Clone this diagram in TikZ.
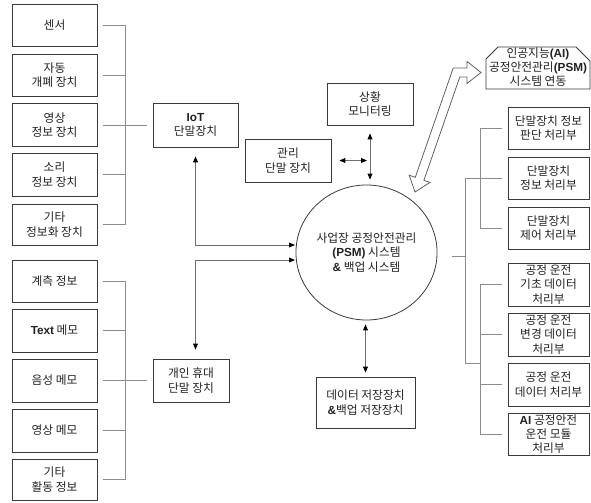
\documentclass[tikz,border=0pt]{standalone}
\usepackage{fontspec}
\setmainfont{Noto Sans CJK KR}
\newfontfamily\lat{Liberation Sans}
\usetikzlibrary{arrows.meta,calc,shapes.geometric}
\newcommand\lb[1]{{\lat\bfseries #1}}
\definecolor{txt}{HTML}{222222}
\definecolor{ln}{HTML}{3A3A3A}
\definecolor{brc}{HTML}{8C8C8C}
\definecolor{cnc}{HTML}{6E6E6E}
\begin{document}
\begin{tikzpicture}[x=0.75pt,y=-0.75pt,
  every node/.style={font=\fontsize{8.8pt}{10.7pt}\selectfont, text=txt},
  bx/.style 2 args={draw=ln, line width=0.6pt, rectangle, inner sep=0pt, align=center,
    minimum width=#1*0.75pt, minimum height=#2*0.75pt},
  brk/.style={draw=brc, line width=0.7pt},
  conn/.style={draw=cnc, line width=0.7pt},
  >={Triangle[length=4.5pt,width=3.6pt,color=black]}]
\useasboundingbox (0,0) rectangle (591,502);
\fill[white] (0,0) rectangle (591,502);

% left upper group
\node[bx={85}{42}] (s1) at (54.5,25) {센서};
\node[bx={85}{42}] (s2) at (54.5,75) {자동\\개폐 장치};
\node[bx={85}{43}] (s3) at (54.5,125) {영상\\정보 장치};
\node[bx={85}{43}] (s4) at (54.5,174.5) {소리\\정보 장치};
\node[bx={85}{41}] (s5) at (54.5,224.5) {기타\\정보화 장치};
% left lower group
\node[bx={85}{42}] (t1) at (54.5,281) {계측 정보};
\node[bx={85}{43}] (t2) at (54.5,330.5) {\lb{Text} 메모};
\node[bx={85}{43}] (t3) at (54.5,380.5) {음성 메모};
\node[bx={85}{43}] (t4) at (54.5,430.5) {영상 메모};
\node[bx={85}{41}] (t5) at (54.5,479.5) {기타\\활동 정보};
% middle
\node[bx={85}{44}] (iot) at (195.5,125) {\lb{IoT}\\단말장치};
\node[bx={76}{43}] (pers) at (191,380.5) {개인 휴대\\단말 장치};
\node[bx={86}{42}] (mon) at (370,104) {상황\\모니터링};
\node[bx={86}{43}] (mgmt) at (288,160.5) {관리\\단말 장치};
\node[bx={99}{51}] (data) at (365.5,402.5) {데이터 저장장치\\\lb{\&}백업 저장장치};
\node[draw=ln, line width=0.6pt, ellipse, inner sep=0pt, align=center,
  minimum width=127*0.75pt, minimum height=135*0.75pt] (circ) at (366.5,252.5)
  {사업장 공정안전관리\\\lb{(PSM)} 시스템\\\lb{\&} 백업 시스템};
% right
\node[bx={81}{42}] (r1) at (548.5,128) {단말장치 정보\\판단 처리부};
\node[bx={81}{42}] (r2) at (548.5,178) {단말장치\\정보 처리부};
\node[bx={81}{42}] (r3) at (548.5,228) {단말장치\\제어 처리부};
\node[bx={81}{43}] (q1) at (548.5,284.5) {공정 운전\\기초 데이터\\처리부};
\node[bx={81}{43}] (q2) at (548.5,334.5) {공정 운전\\변경 데이터\\처리부};
\node[bx={81}{43}] (q3) at (548.5,384.5) {공정 운전\\데이터 처리부};
\node[bx={81}{42}] (q4) at (548.5,434) {\lb{AI} 공정안전\\운전 모듈\\처리부};
% AI linkage box
\draw[draw=ln, line width=0.6pt] (486,89) -- (486,59) -- (498,47) -- (576,47) -- (590,61) -- (590,89) -- cycle;
\node[align=center] (ai) at (538,67) {인공지능\lb{(AI)}\\공정안전관리\lb{(PSM)}\\시스템 연동};

% left brackets
\coordinate (lbx) at (125,0);
\foreach \n in {s1,s2,s3,s4,s5,t1,t2,t3,t4,t5}
  \draw[brk] ($(\n.east)+(6,0)$) -- (\n.east -| lbx);
\draw[brk] (s1.east -| lbx) -- (s5.east -| lbx);
\draw[brk] (t1.east -| lbx) -- (t5.east -| lbx);
\draw[brk] (s3.east -| lbx) -- ($(iot.west)+(-6,0)$);
\draw[brk] (t3.east -| lbx) -- ($(pers.west)+(-6,0)$);

% right brackets
\coordinate (rs) at (452,256);
\coordinate (rm) at (465,256);
\coordinate (rb) at (465,363);
\coordinate (ub) at (480,0);
\draw[brk] (rs) -- (rm);
\draw[brk] ($(r2.west)+(-6,0)$) -| (rb) -- (rb -| ub);
\draw[brk] ($(r1.west)+(-6,0)$) -- (r1.west -| ub) |- ($(r3.west)+(-6,0)$);
\draw[brk] ($(q1.west)+(-6,0)$) -- (q1.west -| ub) |- ($(q4.west)+(-6,0)$);
\draw[brk] ($(q2.west)+(-6,0)$) -- (q2.west -| ub);
\draw[brk] ($(q3.west)+(-6,0)$) -- (q3.west -| ub);

% arrows to the central system
\coordinate (ia) at (295,245);
\coordinate (pa) at (295,260);
\coordinate (hj) at (367,160.5);
\draw[conn,<->,shorten <=6.75pt] (iot.south) |- (ia);
\draw[conn,<->,shorten <=6.75pt] (pers.north -| iot.south) |- (pa);
\draw[conn,<->,shorten <=6pt,shorten >=3.75pt] (mon.south) -- (mon.south |- circ.north);
\draw[conn,<->,shorten <=6pt] (mgmt.east) -- (hj);
\draw[conn,<->,shorten <=3pt,shorten >=3pt] (circ.south -| data.north) -- (data.north);

% hollow bent double arrow
\draw[draw=brc!70!black, line width=0.6pt, fill=white]
  (415,192) -- (430,182.4) -- (423.9,180.3) -- (459.8,77) -- (467,77) -- (467,83.5)
  -- (481,72.5) -- (467,61.5) -- (467,68) -- (453.2,68) -- (415.3,177.3) -- (409.2,175.2) -- cycle;
\end{tikzpicture}
\end{document}
